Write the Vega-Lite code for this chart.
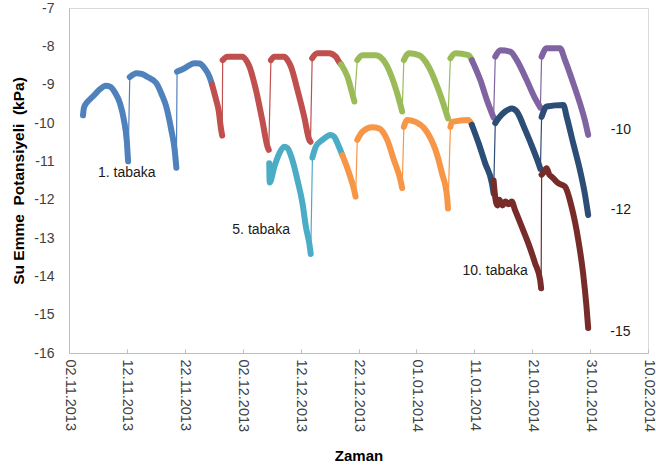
{
  "$schema": "https://vega.github.io/schema/vega-lite/v6.json",
  "width": 579,
  "height": 345,
  "autosize": {"type": "none"},
  "padding": {"left": 69, "top": 8, "right": 8, "bottom": 122},
  "background": "white",
  "config": {"font": "Liberation Sans", "view": {"stroke": "#d9d9d9", "strokeWidth": 1}},
  "datasets": {
    "olcum": [
      {"t":"2013-11-04T10:00","v":-9.8,"seri":"mavi","parca":1},
      {"t":"2013-11-04T14:00","v":-9.6,"seri":"mavi","parca":1},
      {"t":"2013-11-04T22:00","v":-9.5,"seri":"mavi","parca":1},
      {"t":"2013-11-05T15:00","v":-9.38,"seri":"mavi","parca":1},
      {"t":"2013-11-06T12:00","v":-9.25,"seri":"mavi","parca":1},
      {"t":"2013-11-07T08:00","v":-9.12,"seri":"mavi","parca":1},
      {"t":"2013-11-08T09:00","v":-9.03,"seri":"mavi","parca":1},
      {"t":"2013-11-09T01:00","v":-9.05,"seri":"mavi","parca":1},
      {"t":"2013-11-09T22:00","v":-9.2,"seri":"mavi","parca":1},
      {"t":"2013-11-10T19:00","v":-9.48,"seri":"mavi","parca":1},
      {"t":"2013-11-11T11:00","v":-9.9,"seri":"mavi","parca":1},
      {"t":"2013-11-12T00:00","v":-10.5,"seri":"mavi","parca":1},
      {"t":"2013-11-12T05:00","v":-11.0,"seri":"mavi","parca":1},
      {"t":"2013-11-12T12:00","v":-8.8,"seri":"mavi","parca":2},
      {"t":"2013-11-13T16:00","v":-8.7,"seri":"mavi","parca":2},
      {"t":"2013-11-14T13:00","v":-8.72,"seri":"mavi","parca":2},
      {"t":"2013-11-15T14:00","v":-8.8,"seri":"mavi","parca":2},
      {"t":"2013-11-17T02:00","v":-8.96,"seri":"mavi","parca":2},
      {"t":"2013-11-18T00:00","v":-9.25,"seri":"mavi","parca":2},
      {"t":"2013-11-18T19:00","v":-9.57,"seri":"mavi","parca":2},
      {"t":"2013-11-19T16:00","v":-10.18,"seri":"mavi","parca":2},
      {"t":"2013-11-20T06:00","v":-10.7,"seri":"mavi","parca":2},
      {"t":"2013-11-20T13:00","v":-11.17,"seri":"mavi","parca":2},
      {"t":"2013-11-20T16:00","v":-8.66,"seri":"mavi","parca":3},
      {"t":"2013-11-21T23:00","v":-8.57,"seri":"mavi","parca":3},
      {"t":"2013-11-23T17:00","v":-8.44,"seri":"mavi","parca":3},
      {"t":"2013-11-24T13:00","v":-8.45,"seri":"mavi","parca":3},
      {"t":"2013-11-25T10:00","v":-8.57,"seri":"mavi","parca":3},
      {"t":"2013-11-26T06:00","v":-8.79,"seri":"mavi","parca":3},
      {"t":"2013-11-26T17:00","v":-9.0,"seri":"mavi","parca":3},
      {"t":"2013-11-26T17:00","v":-9.0,"seri":"kirmizi","parca":4},
      {"t":"2013-11-27T10:00","v":-9.4,"seri":"kirmizi","parca":4},
      {"t":"2013-11-27T20:00","v":-9.66,"seri":"kirmizi","parca":4},
      {"t":"2013-11-28T06:00","v":-10.15,"seri":"kirmizi","parca":4},
      {"t":"2013-11-28T11:00","v":-10.33,"seri":"kirmizi","parca":4},
      {"t":"2013-11-28T13:00","v":-8.36,"seri":"kirmizi","parca":5},
      {"t":"2013-11-29T09:00","v":-8.27,"seri":"kirmizi","parca":5},
      {"t":"2013-12-01T23:00","v":-8.27,"seri":"kirmizi","parca":5},
      {"t":"2013-12-02T14:00","v":-8.36,"seri":"kirmizi","parca":5},
      {"t":"2013-12-03T04:00","v":-8.53,"seri":"kirmizi","parca":5},
      {"t":"2013-12-04T07:00","v":-9.14,"seri":"kirmizi","parca":5},
      {"t":"2013-12-05T09:00","v":-9.92,"seri":"kirmizi","parca":5},
      {"t":"2013-12-06T07:00","v":-10.62,"seri":"kirmizi","parca":5},
      {"t":"2013-12-06T12:00","v":-10.7,"seri":"kirmizi","parca":5},
      {"t":"2013-12-06T21:00","v":-8.36,"seri":"kirmizi","parca":6},
      {"t":"2013-12-07T11:00","v":-8.27,"seri":"kirmizi","parca":6},
      {"t":"2013-12-09T04:00","v":-8.27,"seri":"kirmizi","parca":6},
      {"t":"2013-12-09T18:00","v":-8.36,"seri":"kirmizi","parca":6},
      {"t":"2013-12-10T08:00","v":-8.53,"seri":"kirmizi","parca":6},
      {"t":"2013-12-11T11:00","v":-9.14,"seri":"kirmizi","parca":6},
      {"t":"2013-12-12T15:00","v":-9.84,"seri":"kirmizi","parca":6},
      {"t":"2013-12-13T12:00","v":-10.44,"seri":"kirmizi","parca":6},
      {"t":"2013-12-13T17:00","v":-10.49,"seri":"kirmizi","parca":6},
      {"t":"2013-12-14T00:00","v":-8.31,"seri":"kirmizi","parca":7},
      {"t":"2013-12-14T21:00","v":-8.18,"seri":"kirmizi","parca":7},
      {"t":"2013-12-16T22:00","v":-8.18,"seri":"kirmizi","parca":7},
      {"t":"2013-12-18T02:00","v":-8.27,"seri":"kirmizi","parca":7},
      {"t":"2013-12-18T15:00","v":-8.4,"seri":"kirmizi","parca":7},
      {"t":"2013-12-19T00:00","v":-8.47,"seri":"kirmizi","parca":7},
      {"t":"2013-12-19T00:00","v":-8.47,"seri":"yesil","parca":8},
      {"t":"2013-12-20T02:00","v":-8.79,"seri":"yesil","parca":8},
      {"t":"2013-12-20T22:00","v":-9.23,"seri":"yesil","parca":8},
      {"t":"2013-12-21T07:00","v":-9.44,"seri":"yesil","parca":8},
      {"t":"2013-12-21T19:00","v":-8.36,"seri":"yesil","parca":9},
      {"t":"2013-12-22T16:00","v":-8.23,"seri":"yesil","parca":9},
      {"t":"2013-12-24T23:00","v":-8.23,"seri":"yesil","parca":9},
      {"t":"2013-12-26T16:00","v":-8.44,"seri":"yesil","parca":9},
      {"t":"2013-12-28T03:00","v":-8.96,"seri":"yesil","parca":9},
      {"t":"2013-12-29T06:00","v":-9.53,"seri":"yesil","parca":9},
      {"t":"2013-12-29T13:00","v":-9.7,"seri":"yesil","parca":9},
      {"t":"2013-12-29T20:00","v":-8.36,"seri":"yesil","parca":10},
      {"t":"2013-12-30T17:00","v":-8.18,"seri":"yesil","parca":10},
      {"t":"2014-01-01T10:00","v":-8.23,"seri":"yesil","parca":10},
      {"t":"2014-01-03T03:00","v":-8.53,"seri":"yesil","parca":10},
      {"t":"2014-01-04T20:00","v":-9.14,"seri":"yesil","parca":10},
      {"t":"2014-01-06T00:00","v":-9.66,"seri":"yesil","parca":10},
      {"t":"2014-01-06T11:00","v":-9.88,"seri":"yesil","parca":10},
      {"t":"2014-01-06T21:00","v":-8.31,"seri":"yesil","parca":11},
      {"t":"2014-01-07T18:00","v":-8.18,"seri":"yesil","parca":11},
      {"t":"2014-01-10T00:00","v":-8.23,"seri":"yesil","parca":11},
      {"t":"2014-01-10T14:00","v":-8.36,"seri":"yesil","parca":11},
      {"t":"2014-01-10T14:00","v":-8.36,"seri":"mor","parca":12},
      {"t":"2014-01-12T01:00","v":-8.88,"seri":"mor","parca":12},
      {"t":"2014-01-13T04:00","v":-9.4,"seri":"mor","parca":12},
      {"t":"2014-01-14T01:00","v":-9.75,"seri":"mor","parca":12},
      {"t":"2014-01-14T08:00","v":-9.86,"seri":"mor","parca":12},
      {"t":"2014-01-14T15:00","v":-8.27,"seri":"mor","parca":13},
      {"t":"2014-01-15T12:00","v":-8.1,"seri":"mor","parca":13},
      {"t":"2014-01-17T05:00","v":-8.14,"seri":"mor","parca":13},
      {"t":"2014-01-18T08:00","v":-8.36,"seri":"mor","parca":13},
      {"t":"2014-01-20T01:00","v":-8.88,"seri":"mor","parca":13},
      {"t":"2014-01-21T12:00","v":-9.36,"seri":"mor","parca":13},
      {"t":"2014-01-22T10:00","v":-9.6,"seri":"mor","parca":13},
      {"t":"2014-01-22T15:00","v":-8.27,"seri":"mor","parca":14},
      {"t":"2014-01-23T12:00","v":-8.05,"seri":"mor","parca":14},
      {"t":"2014-01-25T19:00","v":-8.05,"seri":"mor","parca":14},
      {"t":"2014-01-26T16:00","v":-8.36,"seri":"mor","parca":14},
      {"t":"2014-01-28T02:00","v":-8.96,"seri":"mor","parca":14},
      {"t":"2014-01-29T06:00","v":-9.49,"seri":"mor","parca":14},
      {"t":"2014-01-30T02:00","v":-9.92,"seri":"mor","parca":14},
      {"t":"2014-01-30T16:00","v":-10.31,"seri":"mor","parca":14},
      {"t":"2013-12-06T14:00","v":-11.05,"seri":"camgobegi","parca":15},
      {"t":"2013-12-06T16:00","v":-11.55,"seri":"camgobegi","parca":15},
      {"t":"2013-12-07T11:00","v":-11.14,"seri":"camgobegi","parca":15},
      {"t":"2013-12-08T08:00","v":-10.79,"seri":"camgobegi","parca":15},
      {"t":"2013-12-09T04:00","v":-10.62,"seri":"camgobegi","parca":15},
      {"t":"2013-12-09T18:00","v":-10.66,"seri":"camgobegi","parca":15},
      {"t":"2013-12-10T14:00","v":-10.97,"seri":"camgobegi","parca":15},
      {"t":"2013-12-11T11:00","v":-11.49,"seri":"camgobegi","parca":15},
      {"t":"2013-12-12T08:00","v":-12.1,"seri":"camgobegi","parca":15},
      {"t":"2013-12-12T22:00","v":-12.71,"seri":"camgobegi","parca":15},
      {"t":"2013-12-13T12:00","v":-13.14,"seri":"camgobegi","parca":15},
      {"t":"2013-12-13T18:00","v":-13.42,"seri":"camgobegi","parca":15},
      {"t":"2013-12-14T01:00","v":-10.9,"seri":"camgobegi","parca":16},
      {"t":"2013-12-14T15:00","v":-10.62,"seri":"camgobegi","parca":16},
      {"t":"2013-12-15T18:00","v":-10.44,"seri":"camgobegi","parca":16},
      {"t":"2013-12-17T05:00","v":-10.31,"seri":"camgobegi","parca":16},
      {"t":"2013-12-17T19:00","v":-10.36,"seri":"camgobegi","parca":16},
      {"t":"2013-12-18T15:00","v":-10.62,"seri":"camgobegi","parca":16},
      {"t":"2013-12-19T05:00","v":-10.84,"seri":"camgobegi","parca":16},
      {"t":"2013-12-19T05:00","v":-10.84,"seri":"turuncu","parca":17},
      {"t":"2013-12-20T09:00","v":-11.31,"seri":"turuncu","parca":17},
      {"t":"2013-12-21T06:00","v":-11.75,"seri":"turuncu","parca":17},
      {"t":"2013-12-21T12:00","v":-11.92,"seri":"turuncu","parca":17},
      {"t":"2013-12-21T19:00","v":-10.44,"seri":"turuncu","parca":18},
      {"t":"2013-12-22T16:00","v":-10.23,"seri":"turuncu","parca":18},
      {"t":"2013-12-24T09:00","v":-10.11,"seri":"turuncu","parca":18},
      {"t":"2013-12-25T13:00","v":-10.14,"seri":"turuncu","parca":18},
      {"t":"2013-12-26T23:00","v":-10.44,"seri":"turuncu","parca":18},
      {"t":"2013-12-28T03:00","v":-10.97,"seri":"turuncu","parca":18},
      {"t":"2013-12-29T06:00","v":-11.49,"seri":"turuncu","parca":18},
      {"t":"2013-12-29T13:00","v":-11.7,"seri":"turuncu","parca":18},
      {"t":"2013-12-29T20:00","v":-10.1,"seri":"turuncu","parca":19},
      {"t":"2013-12-30T10:00","v":-9.92,"seri":"turuncu","parca":19},
      {"t":"2013-12-31T20:00","v":-9.97,"seri":"turuncu","parca":19},
      {"t":"2014-01-02T14:00","v":-10.18,"seri":"turuncu","parca":19},
      {"t":"2014-01-04T07:00","v":-10.7,"seri":"turuncu","parca":19},
      {"t":"2014-01-05T10:00","v":-11.31,"seri":"turuncu","parca":19},
      {"t":"2014-01-06T07:00","v":-11.92,"seri":"turuncu","parca":19},
      {"t":"2014-01-06T11:00","v":-12.23,"seri":"turuncu","parca":19},
      {"t":"2014-01-06T21:00","v":-10.1,"seri":"turuncu","parca":20},
      {"t":"2014-01-07T04:00","v":-9.97,"seri":"turuncu","parca":20},
      {"t":"2014-01-10T00:00","v":-9.92,"seri":"turuncu","parca":20},
      {"t":"2014-01-10T14:00","v":-10.05,"seri":"turuncu","parca":20},
      {"t":"2014-01-10T14:00","v":-10.05,"seri":"lacivert","parca":21},
      {"t":"2014-01-11T18:00","v":-10.53,"seri":"lacivert","parca":21},
      {"t":"2014-01-12T21:00","v":-11.05,"seri":"lacivert","parca":21},
      {"t":"2014-01-14T01:00","v":-11.57,"seri":"lacivert","parca":21},
      {"t":"2014-01-14T08:00","v":-11.84,"seri":"lacivert","parca":21},
      {"t":"2014-01-14T15:00","v":-10.0,"seri":"lacivert","parca":22},
      {"t":"2014-01-15T04:00","v":-9.88,"seri":"lacivert","parca":22},
      {"t":"2014-01-16T08:00","v":-9.7,"seri":"lacivert","parca":22},
      {"t":"2014-01-17T11:00","v":-9.62,"seri":"lacivert","parca":22},
      {"t":"2014-01-18T08:00","v":-9.7,"seri":"lacivert","parca":22},
      {"t":"2014-01-19T19:00","v":-10.18,"seri":"lacivert","parca":22},
      {"t":"2014-01-21T05:00","v":-10.7,"seri":"lacivert","parca":22},
      {"t":"2014-01-22T02:00","v":-11.05,"seri":"lacivert","parca":22},
      {"t":"2014-01-22T10:00","v":-11.2,"seri":"lacivert","parca":22},
      {"t":"2014-01-22T15:00","v":-9.84,"seri":"lacivert","parca":23},
      {"t":"2014-01-23T12:00","v":-9.57,"seri":"lacivert","parca":23},
      {"t":"2014-01-26T09:00","v":-9.53,"seri":"lacivert","parca":23},
      {"t":"2014-01-26T23:00","v":-9.84,"seri":"lacivert","parca":23},
      {"t":"2014-01-28T02:00","v":-10.53,"seri":"lacivert","parca":23},
      {"t":"2014-01-29T06:00","v":-11.23,"seri":"lacivert","parca":23},
      {"t":"2014-01-30T02:00","v":-11.84,"seri":"lacivert","parca":23},
      {"t":"2014-01-30T16:00","v":-12.4,"seri":"lacivert","parca":23},
      {"t":"2014-01-14T08:00","v":-11.5,"seri":"bordo","parca":24},
      {"t":"2014-01-14T15:00","v":-11.95,"seri":"bordo","parca":24},
      {"t":"2014-01-15T00:00","v":-12.15,"seri":"bordo","parca":24},
      {"t":"2014-01-15T08:00","v":-12.0,"seri":"bordo","parca":24},
      {"t":"2014-01-15T21:00","v":-12.15,"seri":"bordo","parca":24},
      {"t":"2014-01-16T09:00","v":-12.05,"seri":"bordo","parca":24},
      {"t":"2014-01-16T22:00","v":-12.12,"seri":"bordo","parca":24},
      {"t":"2014-01-17T11:00","v":-12.05,"seri":"bordo","parca":24},
      {"t":"2014-01-18T01:00","v":-12.27,"seri":"bordo","parca":24},
      {"t":"2014-01-19T05:00","v":-12.71,"seri":"bordo","parca":24},
      {"t":"2014-01-20T08:00","v":-13.14,"seri":"bordo","parca":24},
      {"t":"2014-01-21T12:00","v":-13.66,"seri":"bordo","parca":24},
      {"t":"2014-01-22T09:00","v":-14.1,"seri":"bordo","parca":24},
      {"t":"2014-01-22T13:00","v":-14.31,"seri":"bordo","parca":24},
      {"t":"2014-01-22T15:00","v":-11.35,"seri":"bordo","parca":25},
      {"t":"2014-01-22T22:00","v":-11.3,"seri":"bordo","parca":25},
      {"t":"2014-01-23T12:00","v":-11.18,"seri":"bordo","parca":25},
      {"t":"2014-01-23T23:00","v":-11.35,"seri":"bordo","parca":25},
      {"t":"2014-01-24T09:00","v":-11.4,"seri":"bordo","parca":25},
      {"t":"2014-01-25T00:00","v":-11.5,"seri":"bordo","parca":25},
      {"t":"2014-01-25T12:00","v":-11.57,"seri":"bordo","parca":25},
      {"t":"2014-01-26T16:00","v":-11.66,"seri":"bordo","parca":25},
      {"t":"2014-01-27T19:00","v":-12.18,"seri":"bordo","parca":25},
      {"t":"2014-01-28T23:00","v":-13.05,"seri":"bordo","parca":25},
      {"t":"2014-01-29T19:00","v":-13.92,"seri":"bordo","parca":25},
      {"t":"2014-01-30T09:00","v":-14.79,"seri":"bordo","parca":25},
      {"t":"2014-01-30T16:00","v":-15.35,"seri":"bordo","parca":25}
    ],
    "notlar": [
      {"t":"2013-11-07T00:00","v":-11.3,"yazi":"1. tabaka"},
      {"t":"2013-11-30T05:00","v":-12.79,"yazi":"5. tabaka"},
      {"t":"2014-01-08T23:00","v":-13.85,"yazi":"10. tabaka"},
      {"t":"2014-02-03T14:00","v":-10.18,"yazi":"-10"},
      {"t":"2014-02-03T14:00","v":-12.27,"yazi":"-12"},
      {"t":"2014-02-03T12:00","v":-15.45,"yazi":"-15"}
    ]
  },
  "encoding": {
    "x": {
      "field": "t", "type": "temporal",
      "scale": {"domain": [{"year":2013,"month":11,"date":2},{"year":2014,"month":2,"date":10}]},
      "axis": {
        "title": "Zaman", "titleFontSize": 15, "titleFontWeight": "bold", "titleColor": "#000000", "titlePadding": 17,
        "values": [
          {"year":2013,"month":11,"date":2},{"year":2013,"month":11,"date":12},{"year":2013,"month":11,"date":22},
          {"year":2013,"month":12,"date":2},{"year":2013,"month":12,"date":12},{"year":2013,"month":12,"date":22},
          {"year":2014,"month":1,"date":1},{"year":2014,"month":1,"date":11},{"year":2014,"month":1,"date":21},
          {"year":2014,"month":1,"date":31},{"year":2014,"month":2,"date":10}
        ],
        "format": "%d.%m.%Y", "labelAngle": 90, "labelFontSize": 14.5, "labelColor": "#404040",
        "labelPadding": 10, "tickSize": -4, "tickColor": "#bfbfbf", "domainColor": "#bfbfbf", "grid": false,
        "labelFlush": false, "labelOverlap": false
      }
    },
    "y": {
      "field": "v", "type": "quantitative",
      "scale": {"domain": [-16, -7], "nice": false, "zero": false},
      "axis": {
        "title": "Su\u00a0Emme\u00a0\u00a0Potansiyeli\u00a0\u00a0(kPa)", "titleFontSize": 15.5, "titleFontWeight": "bold", "titleColor": "#000000", "titlePadding": 7,
        "values": [-16,-15,-14,-13,-12,-11,-10,-9,-8,-7],
        "labelExpr": "'' + datum.value", "labelFontSize": 14, "labelColor": "#404040", "labelPadding": 15,
        "ticks": false, "domainColor": "#bfbfbf", "grid": false
      }
    }
  },
  "layer": [
    {
      "data": {"name": "olcum"},
      "mark": {"type": "line", "strokeWidth": 1.2},
      "encoding": {
        "color": {"field": "seri", "type": "nominal", "legend": null,
          "scale": {"domain": ["mavi","kirmizi","yesil","mor","camgobegi","turuncu","lacivert","bordo"],
                    "range": ["#4F81BD","#C0504D","#9BBB59","#8064A2","#4BACC6","#F79646","#2C4D75","#772C2A"]}},
        "detail": {"field": "seri"}
      }
    },
    {
      "data": {"name": "olcum"},
      "mark": {"type": "line", "strokeWidth": 6, "strokeCap": "round", "strokeJoin": "round", "interpolate": "monotone"},
      "encoding": {
        "color": {"field": "seri", "type": "nominal", "legend": null},
        "detail": {"field": "parca"}
      }
    },
    {
      "data": {"name": "notlar"},
      "mark": {"type": "text", "align": "left", "baseline": "middle", "fontSize": 14, "color": "#1a1a1a"},
      "encoding": {"text": {"field": "yazi"}}
    }
  ]
}
